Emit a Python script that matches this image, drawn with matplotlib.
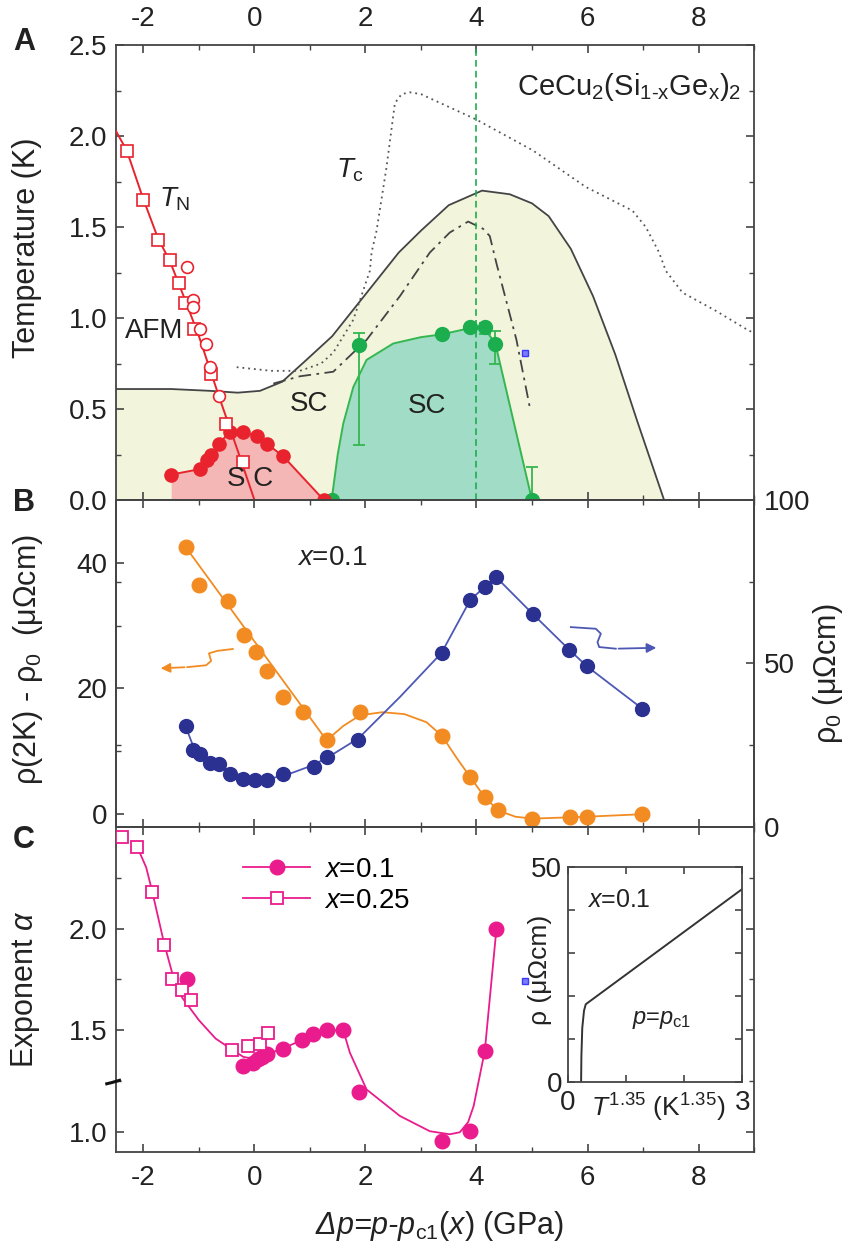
import numpy as np
import matplotlib
matplotlib.use("Agg")
import matplotlib.pyplot as plt
from matplotlib.lines import Line2D
from matplotlib.ticker import MultipleLocator, FixedLocator, FormatStrFormatter

plt.rcParams['font.family'] = ['Liberation Sans', 'DejaVu Sans']
plt.rcParams['mathtext.fontset'] = 'custom'
plt.rcParams['mathtext.rm'] = 'Liberation Sans'
plt.rcParams['mathtext.it'] = 'Liberation Sans:italic'
plt.rcParams['mathtext.bf'] = 'Liberation Sans:bold'
plt.rcParams['axes.unicode_minus'] = False
plt.rcParams['font.size'] = 20

# ---- panel A: phase diagram ----
TN_SQ_X = [-2.30, -2.01, -1.74, -1.52, -1.36, -1.25, -1.09, -0.79, -0.51, -0.21]
TN_SQ_Y = [1.92, 1.65, 1.43, 1.32, 1.19, 1.08, 0.94, 0.69, 0.42, 0.21]
TN_CIRC_X = [-1.22, -1.11, -1.11, -0.98, -0.88, -0.80, -0.64]
TN_CIRC_Y = [1.28, 1.10, 1.06, 0.94, 0.86, 0.73, 0.57]
TN_LINE_X = [-2.5, -2.30, -2.01, -1.74, -1.52, -1.25, -1.00, -0.64, -0.30, 0.0]
TN_LINE_Y = [2.03, 1.92, 1.66, 1.44, 1.31, 1.10, 0.90, 0.57, 0.27, 0.0]

SC_RED_X = [-1.50, -0.98, -0.86, -0.79, -0.64, -0.44, -0.20, 0.04, 0.22, 0.52, 1.25]
SC_RED_Y = [0.14, 0.17, 0.22, 0.25, 0.31, 0.375, 0.375, 0.35, 0.31, 0.24, 0.0]

SC_GRN_X = [1.39, 1.88, 3.37, 3.89, 4.15, 4.34, 5.00]
SC_GRN_Y = [0.0, 0.85, 0.91, 0.95, 0.95, 0.86, 0.0]
ERR_X = [1.88, 4.15, 4.34, 5.00]
ERR_Y = [0.85, 0.95, 0.86, 0.0]
ERR_LO = [0.30, 0.91, 0.75, 0.0]
ERR_HI = [0.92, 0.97, 0.93, 0.18]
GRN_LINE_X = [1.39, 1.50, 1.60, 1.78, 2.02, 2.50, 3.00, 3.37, 3.89, 4.15, 4.34, 5.00]
GRN_LINE_Y = [0.0, 0.25, 0.42, 0.62, 0.77, 0.86, 0.895, 0.91, 0.945, 0.94, 0.86, 0.0]

BND_X = [-2.5, -1.5, -0.8, -0.3, 0.1, 0.5, 0.9, 1.4, 2.0, 2.6, 3.0, 3.5, 4.1, 4.6, 5.0, 5.3,
         5.7, 6.1, 6.5, 6.9, 7.38]
BND_Y = [0.61, 0.61, 0.60, 0.59, 0.60, 0.65, 0.76, 0.90, 1.13, 1.36, 1.48, 1.62, 1.70, 1.68,
         1.63, 1.56, 1.38, 1.12, 0.80, 0.43, 0.0]

DOT_X = [-0.32, 0.30, 0.82, 1.20, 1.42, 1.78, 2.08, 2.11, 2.20, 2.38, 2.53, 2.65, 2.80,
         3.00, 4.00, 5.02, 5.97, 6.81, 7.05, 7.29, 7.41, 7.71, 8.31, 8.91, 9.0]
DOT_Y = [0.73, 0.71, 0.71, 0.75, 0.81, 0.99, 1.26, 1.36, 1.48, 1.83, 2.18, 2.23, 2.24,
         2.23, 2.09, 1.92, 1.72, 1.59, 1.50, 1.36, 1.26, 1.14, 1.04, 0.93, 0.92]

DD_X = [0.34, 0.82, 1.42, 2.02, 2.62, 3.16, 3.52, 3.85, 4.12, 4.24, 4.36, 4.72, 4.96]
DD_Y = [0.64, 0.68, 0.705, 0.88, 1.12, 1.36, 1.47, 1.53, 1.49, 1.45, 1.30, 0.88, 0.51]

BLUE_SQ_X = [4.88]
BLUE_SQ_A = [0.81]
BLUE_SQ_C = [1.745]

# ---- panel B: resistivity ----
ORG_X = [-1.24, -0.99, -0.48, -0.18, 0.03, 0.23, 0.52, 0.87, 1.30, 1.90, 3.38, 3.89, 4.15,
         4.39, 5.00, 5.69, 5.99, 6.99]
ORG_Y = [42.6, 36.5, 33.9, 28.5, 25.8, 22.8, 18.7, 16.2, 11.7, 16.3, 12.4, 5.8, 2.6,
         0.5, -0.8, -0.6, -0.5, -0.1]
ORG_FIT_X = [-1.24, 1.30, 1.60, 1.90, 2.30, 2.70, 3.10, 3.38, 3.65, 3.89, 4.15, 4.39, 4.70,
             5.00, 5.69, 5.99, 6.99]
ORG_FIT_Y = [42.6, 11.7, 14.0, 15.7, 16.2, 15.9, 14.6, 12.4, 8.8, 5.8, 2.6, 0.5, -0.5,
             -0.8, -0.6, -0.5, -0.1]

BLU_X = [-1.24, -1.11, -0.98, -0.80, -0.63, -0.44, -0.21, 0.01, 0.22, 0.52, 1.07, 1.30, 1.87,
         3.37, 3.89, 4.15, 4.36, 5.01, 5.67, 5.99, 6.99]
BLU_Y = [30.7, 23.5, 22.3, 19.4, 19.2, 16.2, 14.6, 14.3, 14.3, 16.2, 18.4, 21.3, 26.6,
         53.2, 69.5, 73.4, 76.3, 65.2, 54.2, 49.1, 36.1]
BLU_FIT_X = [-1.24, -1.10, -0.90, -0.60, -0.30, 0.0, 0.30, 0.60, 1.00, 1.30, 1.87, 2.62,
             3.37, 3.89, 4.15, 4.36, 5.01, 5.67, 5.99, 6.99]
BLU_FIT_Y = [30.7, 24.5, 21.5, 18.5, 16.0, 14.8, 14.8, 16.0, 18.5, 21.0, 27.0, 39.7,
             53.2, 69.5, 73.4, 76.3, 65.2, 54.2, 49.1, 36.1]

# curly axis-pointer arrows
ORG_ARROW_X = [-0.39, -0.67, -0.82, -0.78, -0.87, -1.21, -1.74]
ORG_ARROW_Y = [26.3, 26.0, 25.6, 24.4, 23.7, 23.4, 23.2]
BLU_ARROW_X = [5.70, 6.15, 6.24, 6.18, 6.21, 6.51, 7.29]
BLU_ARROW_Y = [61.1, 60.6, 59.1, 56.5, 55.0, 54.5, 54.8]

# ---- panel C: exponent ----
SQ25_X = [-2.38, -2.11, -1.84, -1.63, -1.48, -1.31, -1.14, -0.40, -0.11, 0.10, 0.25]
SQ25_Y = [2.45, 2.40, 2.18, 1.92, 1.75, 1.70, 1.65, 1.405, 1.425, 1.435, 1.487]
CIR10_X = [-1.22, -0.20, -0.03, 0.06, 0.14, 0.23, 0.52, 0.86, 1.06, 1.30, 1.60, 1.88,
           3.37, 3.89, 4.15, 4.36]
CIR10_Y = [1.75, 1.325, 1.34, 1.36, 1.37, 1.385, 1.41, 1.455, 1.48, 1.50, 1.50, 1.20,
           0.956, 1.005, 1.40, 2.00]
ALPHA_FIT_X = [-2.11, -1.95, -1.84, -1.63, -1.48, -1.30, -1.00, -0.70, -0.40, -0.20, 0.0,
               0.50, 1.00, 1.30, 1.60, 1.72, 2.02, 2.62, 3.16, 3.52, 3.70, 3.85, 3.95,
               4.15, 4.36]
ALPHA_FIT_Y = [2.40, 2.30, 2.18, 1.93, 1.78, 1.66, 1.55, 1.46, 1.405, 1.37, 1.36,
               1.41, 1.47, 1.50, 1.50, 1.39, 1.21, 1.08, 1.005, 0.99, 1.00, 1.05, 1.13,
               1.40, 2.00]

# inset: rho vs T^1.35 at p = pc1
INS_X = [0.23, 0.235, 0.25, 0.28, 0.31, 3.0]
INS_Y = [0.0, 6.0, 12.5, 16.5, 18.0, 44.8]

RED = '#e8232e'
PINK_FILL = '#f4b7b6'
GREEN = '#1cae4e'
GREEN_LINE = '#35b651'
TEAL_FILL = '#a0dcc6'
YELLOW_FILL = '#f2f4dc'
ORANGE = '#f28c22'
NAVY = '#2b3191'
BLUE_LINE = '#4d58b5'
MAGENTA = '#ea1b8c'
SPINE = '#444444'
TXT = '#222222'


def style_axes(ax):
    for s in ax.spines.values():
        s.set_color(SPINE)
        s.set_linewidth(1.3)
    ax.tick_params(which='both', direction='in', top=True, bottom=True, left=True,
                   right=True, colors=SPINE, labelcolor=TXT, labelsize=20)
    ax.tick_params(which='major', length=6, width=1.2)
    ax.tick_params(which='minor', length=3.5, width=1.0)
    ax.tick_params(axis='x', pad=9)
    ax.tick_params(axis='y', pad=6)


fig = plt.figure(figsize=(8.55, 12.43), dpi=100)
L, W = 0.1353, 0.7466
ax_a = fig.add_axes([L, 0.5977, W, 0.3661])
ax_b = fig.add_axes([L, 0.3349, W, 0.2628], sharex=ax_a)
ax_c = fig.add_axes([L, 0.0732, W, 0.2617], sharex=ax_a)

for ax in (ax_a, ax_b, ax_c):
    style_axes(ax)
ax_a.set_xlim(-2.5, 9)
ax_a.xaxis.set_major_locator(MultipleLocator(2))
ax_a.xaxis.set_minor_locator(MultipleLocator(1))

# ---------------- A ----------------
ax_a.fill_between(BND_X, BND_Y, 0, color=YELLOW_FILL, lw=0, zorder=1)
ax_a.fill_between(GRN_LINE_X, GRN_LINE_Y, 0, color=TEAL_FILL, lw=0, zorder=2)
ax_a.fill_between(SC_RED_X, SC_RED_Y, 0, color=PINK_FILL, lw=0, zorder=2)
ax_a.plot(BND_X, BND_Y, color='#444444', lw=1.3, zorder=3)
ax_a.plot(DOT_X, DOT_Y, color='#555555', lw=1.3, ls=(0, (1, 2.2)), zorder=3)
ax_a.plot(DD_X, DD_Y, color='#444444', lw=1.3, ls=(0, (7, 3, 1.5, 3)), zorder=3)
ax_a.axvline(4.0, color=GREEN, lw=1.2, ls=(0, (4, 2.5)), zorder=3)

ax_a.plot(GRN_LINE_X, GRN_LINE_Y, color=GREEN_LINE, lw=1.4, zorder=4)
ax_a.errorbar(ERR_X, ERR_Y, yerr=[np.subtract(ERR_Y, ERR_LO), np.subtract(ERR_HI, ERR_Y)],
              fmt='none', ecolor=GREEN_LINE, elinewidth=1.3, capsize=4, capthick=1.3, zorder=4)
ax_a.plot(SC_GRN_X, SC_GRN_Y, 'o', color=GREEN, ms=10, zorder=5)

ax_a.plot(TN_LINE_X, TN_LINE_Y, color=RED, lw=1.4, zorder=4)
ax_a.plot(SC_RED_X, SC_RED_Y, color=RED, lw=1.4, zorder=4)
ax_a.plot(SC_RED_X, SC_RED_Y, 'o', color=RED, ms=9.5, zorder=5)
ax_a.plot(TN_SQ_X, TN_SQ_Y, 's', mfc='white', mec=RED, mew=1.2, ms=8, zorder=6)
ax_a.plot(TN_CIRC_X, TN_CIRC_Y, 'o', mfc='white', mec=RED, mew=1.2, ms=8.5, zorder=6)
ax_a.plot(BLUE_SQ_X, BLUE_SQ_A, 's', mfc='#7c7cff', mec='#3a3aff', ms=4.5, mew=1, zorder=6)

ax_a.set_ylim(0, 2.5)
ax_a.yaxis.set_major_locator(MultipleLocator(0.5))
ax_a.yaxis.set_minor_locator(MultipleLocator(0.25))
ax_a.yaxis.set_major_formatter(FormatStrFormatter('%.1f'))
ax_a.tick_params(labeltop=True, labelbottom=False)
ax_a.set_ylabel('Temperature (K)', fontsize=22, color=TXT)
ax_a.yaxis.set_label_coords(-0.116, 0.555)

ax_a.text(6.75, 2.27, r'CeCu$_{\rm 2}$(Si$_{\text{1-x}}$Ge$_{\rm x}$)$_{\rm 2}$',
          ha='center', va='center', fontsize=21, color=TXT)
ax_a.text(1.72, 1.81, r'$\it{T}_{\rm c}$', ha='center', va='center', fontsize=20, color=TXT)
ax_a.text(-1.43, 1.65, r'$\it{T}_{\rm N}$', ha='center', va='center', fontsize=20, color=TXT)
ax_a.text(-1.81, 0.93, 'AFM', ha='center', va='center', fontsize=20, color=TXT, zorder=7)
ax_a.text(0.98, 0.53, 'SC', ha='center', va='center', fontsize=20, color=TXT, zorder=7)
ax_a.text(3.10, 0.515, 'SC', ha='center', va='center', fontsize=20, color=TXT, zorder=7)
ax_a.text(-0.08, 0.115, 'S C', ha='center', va='center', fontsize=20, color=TXT, zorder=7)

# ---------------- B ----------------
ax_b.plot(ORG_FIT_X, ORG_FIT_Y, color=ORANGE, lw=1.3, zorder=3)
ax_b.plot(ORG_X, ORG_Y, 'o', color=ORANGE, ms=10.5, zorder=4)
ax_b.set_ylim(-2.1, 50.1)
ax_b.yaxis.set_major_locator(FixedLocator([0, 20, 40]))
ax_b.yaxis.set_minor_locator(FixedLocator([10, 30]))
ax_b.tick_params(labelbottom=False, right=False)
ax_b.set_ylabel(r'ρ(2K) - ρ$_{\rm 0}$  (μΩcm)', fontsize=22, color=TXT)
ax_b.yaxis.set_label_coords(-0.111, 0.513)
ax_b.text(1.40, 40.8, r'$\it{x}$=0.1', ha='center', va='center', fontsize=20, color=TXT)
ax_b.plot(ORG_ARROW_X[:-1], ORG_ARROW_Y[:-1], color=ORANGE, lw=1.3)
ax_b.annotate('', xy=(ORG_ARROW_X[-1], ORG_ARROW_Y[-1]),
              xytext=(ORG_ARROW_X[-2], ORG_ARROW_Y[-2]),
              arrowprops=dict(arrowstyle='-|>', color=ORANGE, lw=1.3, mutation_scale=14))

ax_r = ax_b.twinx()
style_axes(ax_r)
ax_r.tick_params(left=False, top=False, bottom=False, labelleft=False)
ax_r.plot(BLU_FIT_X, BLU_FIT_Y, color=BLUE_LINE, lw=1.3, zorder=3)
ax_r.plot(BLU_X, BLU_Y, 'o', color=NAVY, ms=10, zorder=4)
ax_r.set_ylim(0, 100)
ax_r.yaxis.set_major_locator(FixedLocator([0, 50, 100]))
ax_r.yaxis.set_minor_locator(FixedLocator([25, 75]))
ax_r.tick_params(axis='y', pad=7)
ax_r.set_ylabel(r'ρ$_{\rm 0}$ (μΩcm)', fontsize=22, color=TXT, rotation=90)
ax_r.yaxis.set_label_coords(1.09, 0.469)
ax_r.plot(BLU_ARROW_X[:-1], BLU_ARROW_Y[:-1], color=BLUE_LINE, lw=1.3)
ax_r.annotate('', xy=(BLU_ARROW_X[-1], BLU_ARROW_Y[-1]),
              xytext=(BLU_ARROW_X[-2], BLU_ARROW_Y[-2]),
              arrowprops=dict(arrowstyle='-|>', color=BLUE_LINE, lw=1.3, mutation_scale=14))

# ---------------- C ----------------
ax_c.plot(ALPHA_FIT_X, ALPHA_FIT_Y, color=MAGENTA, lw=1.3, zorder=3)
ax_c.plot(CIR10_X, CIR10_Y, 'o', color=MAGENTA, ms=10.5, zorder=4)
ax_c.plot(SQ25_X, SQ25_Y, 's', mfc='white', mec=MAGENTA, mew=1.3, ms=8, zorder=5)
ax_c.plot(BLUE_SQ_X, BLUE_SQ_C, 's', mfc='#7c7cff', mec='#3a3aff', ms=4.5, mew=1, zorder=6)
ax_c.set_ylim(0.903, 2.5)
ax_c.yaxis.set_major_locator(FixedLocator([1.0, 1.5, 2.0]))
ax_c.yaxis.set_minor_locator(FixedLocator([1.25, 1.75, 2.25]))
ax_c.yaxis.set_major_formatter(FormatStrFormatter('%.1f'))
ax_c.set_ylabel(r'Exponent $\it{α}$', fontsize=22, color=TXT)
ax_c.yaxis.set_label_coords(-0.116, 0.4995)
ax_c.set_xlabel(r'Δp=p-p$_{\rm c1}$$\rm{(}\it{x}\rm{)}$ $\rm{(GPa)}$', fontsize=22,
                color=TXT, style='italic')
ax_c.xaxis.set_label_coords(0.508, -0.175)
# axis break on the left spine
ax_c.plot([-0.014, -0.006, 0.006], [1.238, 1.244, 1.255], color='#111111', lw=2.2,
          transform=ax_c.get_yaxis_transform(), clip_on=False, zorder=8)

handles = [
    Line2D([], [], color=MAGENTA, lw=1.3, marker='o', ms=10.5),
    Line2D([], [], color=MAGENTA, lw=1.3, marker='s', mfc='white', mec=MAGENTA, mew=1.3, ms=8),
]
ax_c.legend(handles, [r'$\it{x}$=0.1', r'$\it{x}$=0.25'], loc='upper left',
            bbox_to_anchor=(0.161, 0.985), frameon=False, handlelength=2.4,
            handletextpad=0.5, labelspacing=0.2, numpoints=1, fontsize=20)

# ---------------- inset ----------------
ax_in = fig.add_axes([0.664, 0.1298, 0.2042, 0.173])
style_axes(ax_in)
ax_in.plot(INS_X, INS_Y, color='#333333', lw=1.4)
ax_in.set_xlim(0, 3)
ax_in.set_ylim(0, 50)
ax_in.xaxis.set_major_locator(FixedLocator([0, 1, 2, 3]))
ax_in.yaxis.set_major_locator(FixedLocator([0, 10, 20, 30, 40, 50]))
ax_in.set_xticklabels(['0', '', '', '3'])
ax_in.set_yticklabels(['0', '', '', '', '', '50'])
ax_in.tick_params(which='major', length=5)
ax_in.tick_params(axis='x', pad=6)
ax_in.tick_params(axis='y', pad=4)
ax_in.set_xlabel(r'$\it{T}^{\rm 1.35}$ (K$^{\rm 1.35}$)', fontsize=19, color=TXT)
ax_in.xaxis.set_label_coords(0.52, -0.045)
ax_in.set_ylabel('ρ (μΩcm)', fontsize=19, color=TXT)
ax_in.yaxis.set_label_coords(-0.09, 0.52)
ax_in.text(0.11, 0.845, r'$\it{x}$=0.1', transform=ax_in.transAxes, ha='left',
           va='center', fontsize=18, color=TXT)
ax_in.text(0.54, 0.287, r'$\it{p}$=$\it{p}_{\rm c1}$', transform=ax_in.transAxes,
           ha='center', va='center', fontsize=17, color=TXT)

# panel letters
for lab, yy in (('A', 0.966), ('B', 0.595), ('C', 0.324)):
    fig.text(0.028, yy, lab, fontsize=22, fontweight='bold', color=TXT,
             ha='center', va='center')

fig.savefig('out.png', dpi=100)
